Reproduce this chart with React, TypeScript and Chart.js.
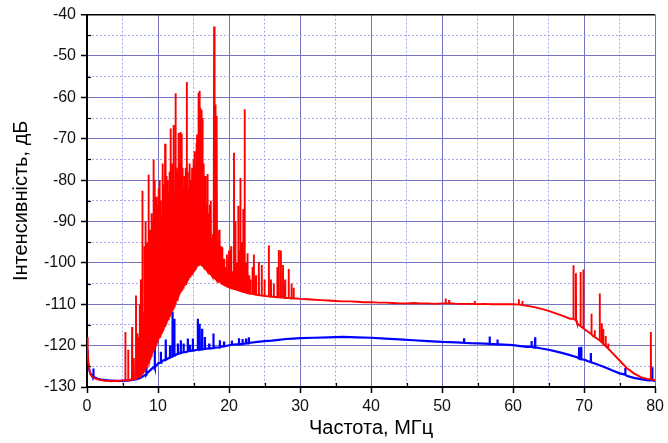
import { useEffect, useRef } from 'react';
import { Chart, registerables } from 'chart.js';

Chart.register(...registerables);

// ---------- axis values ----------
const X_MIN = 0;
const X_MAX = 80;
const Y_MIN = -130;
const Y_MAX = -40;
const xMinorTicks = [5, 15, 25, 35, 45, 55, 65, 75];
const yMinorTicks = [-125, -115, -105, -95, -85, -75, -65, -55, -45];

const X_TITLE = 'Частота, МГц';
const Y_TITLE = 'Інтенсивність, дБ';

// ---------- red trace: smooth background ----------
const redBaseX = [0, 0.1, 0.2, 0.35, 0.5, 0.8, 1.2, 1.6, 2, 2.5, 3, 3.5, 4, 4.5, 5, 5.5, 6, 6.5, 7, 7.2,
  29.5, 30, 31, 32, 33, 34, 35, 36, 37, 38, 39, 40, 41, 42, 43, 44, 45, 46, 47, 48, 49, 50, 51.5, 52, 53, 54, 55,
  56, 57, 58, 59, 60, 61, 62, 63, 64, 65, 66, 67, 68, 69, 70, 71, 72, 73, 74, 75, 76, 77, 78, 79, 79.5, 80];
const redBaseY = [-118, -121.5, -124, -126, -127, -127.6, -128, -128.2, -128.3, -128.5, -128.5, -128.6, -128.5, -128.6, -128.4, -128.4, -128.3, -128.1, -127.8, -127.6,
  -108.6, -108.7, -108.8, -108.9, -109, -109.1, -109.2, -109.3, -109.3, -109.4, -109.5, -109.5, -109.6, -109.6, -109.7, -109.8, -109.8, -109.7, -109.8, -109.8, -109.9, -109.8, -109.8, -109.9, -109.9, -109.9, -110,
  -109.9, -110, -110, -110, -110, -110.1, -110.4, -110.7, -111.1, -111.6, -112.2, -112.8, -113.5, -114.6, -116, -117.2, -118.5, -120.1, -121.8, -123.6, -125.4, -126.7, -127.6, -128.1, -128.2, -128.3];

// ---------- red trace: spikes [frequency, foot, peak] ----------
const redSpikesLowBand: [number, number, number][] = [
  [5.4, -128.4, -116.7], [5.8, -128.4, -121], [6.35, -128.2, -115.5], [6.6, -128.1, -123], [6.9, -128, -107.9], [7.1, -127.7, -117],
];
const redSpikesDense: [number, number, number][] = [
  [7.30, -127.5, -118], [7.45, -127.2, -110], [7.60, -127.0, -104], [7.80, -126.5, -82.6], [7.95, -126.2, -112],
  [8.10, -125.8, -96], [8.20, -125.5, -108], [8.30, -125.2, -90], [8.40, -124.8, -102], [8.50, -124.5, -95],
  [8.60, -124.2, -106], [8.70, -123.8, -78.7], [8.80, -123.5, -98], [8.90, -123.0, -92], [9.00, -122.5, -104],
  [9.10, -122.1, -88], [9.20, -121.7, -97], [9.30, -121.3, -90], [9.40, -120.9, -75], [9.50, -120.5, -86],
  [9.57, -120.3, -80], [9.65, -119.9, -93], [9.75, -119.5, -84], [9.85, -119.1, -96], [9.95, -118.7, -86],
  [10.05, -118.3, -90], [10.13, -117.9, -82], [10.22, -117.7, -80], [10.30, -117.3, -92], [10.40, -117.0, -85],
  [10.50, -116.8, -89], [10.60, -116.4, -83], [10.70, -116.0, -76], [10.80, -115.7, -87], [10.90, -115.3, -81],
  [11.00, -115.0, -71.2], [11.10, -114.6, -84], [11.20, -114.3, -79], [11.30, -113.9, -86], [11.40, -113.6, -80],
  [11.50, -113.2, -83], [11.60, -112.9, -78], [11.70, -112.5, -85], [11.80, -112.2, -67.5], [11.90, -111.8, -80],
  [12.00, -111.5, -76], [12.08, -111.2, -82], [12.15, -110.9, -66.7], [12.25, -110.5, -79], [12.35, -110.1, -84],
  [12.45, -109.7, -59], [12.55, -109.3, -77], [12.65, -108.9, -81], [12.75, -108.5, -78], [12.83, -108.1, -83],
  [12.92, -107.9, -68.6], [13.00, -107.5, -79], [13.10, -107.2, -76], [13.20, -106.9, -68.4], [13.30, -106.6, -68.8],
  [13.40, -106.3, -80], [13.50, -106.0, -77], [13.60, -105.7, -82], [13.70, -105.4, -79], [13.80, -105.1, -84],
  [13.90, -104.8, -77], [14.05, -104.4, -56.3], [14.15, -104.2, -78], [14.25, -103.9, -82], [14.40, -103.5, -80],
  [14.50, -103.2, -76], [14.60, -102.9, -80], [14.70, -102.7, -84], [14.80, -102.5, -77], [14.90, -102.2, -81],
  [15.00, -102.0, -75], [15.10, -101.7, -79], [15.20, -101.5, -73], [15.30, -101.3, -77], [15.40, -101.0, -71],
  [15.50, -100.8, -69], [15.60, -100.6, -72], [15.70, -100.5, -58.9], [15.85, -100.4, -58.4], [15.95, -100.3, -62.5],
  [16.10, -100.4, -63], [16.20, -100.5, -65], [16.30, -100.6, -72], [16.40, -100.8, -76], [16.50, -101.0, -80],
  [16.60, -101.2, -84], [16.70, -101.4, -79], [16.80, -101.6, -86], [16.95, -101.9, -78.5], [17.05, -102.1, -88],
  [17.15, -102.3, -92], [17.30, -102.6, -86], [17.44, -102.8, -85], [17.55, -103.0, -94], [17.65, -103.2, -97],
  [17.75, -103.4, -93], [17.90, -103.7, -42.9], [18.00, -103.8, -90], [18.10, -103.9, -61.7], [18.20, -104.0, -78],
  [18.30, -104.2, -64.5], [18.45, -104.4, -95], [18.60, -104.6, -92], [18.75, -104.7, -99], [18.90, -104.9, -96],
  [19.05, -105.1, -96.2], [19.30, -105.3, -99], [19.50, -105.5, -101], [19.70, -105.7, -98],
];
const redSpikesMid: [number, number, number][] = [
  [20.00, -105.9, -97], [20.30, -106.1, -96], [20.50, -106.2, -102], [20.70, -106.3, -73.4], [20.90, -106.4, -90],
  [21.10, -106.5, -100], [21.30, -106.6, -86.2], [21.45, -106.7, -97], [21.60, -106.8, -79.5], [21.75, -106.9, -95],
  [22.00, -107.0, -87], [22.20, -107.1, -62.9], [22.40, -107.2, -100], [22.60, -107.3, -97.7], [22.85, -107.4, -103],
  [23.00, -107.5, -104], [23.30, -107.5, -101], [23.50, -107.6, -98], [23.80, -107.7, -103], [24.20, -107.8, -99.8],
  [24.60, -107.9, -100.5], [25.00, -108.0, -104], [25.60, -108.1, -95.8], [25.90, -108.2, -104], [26.30, -108.2, -105],
  [26.80, -108.3, -101], [27.00, -108.3, -96.9], [27.30, -108.4, -97], [27.60, -108.4, -100.5], [27.90, -108.5, -104],
  [28.40, -108.5, -101.5], [28.80, -108.6, -105], [29.10, -108.6, -106],
];
const redSpikesHigh: [number, number, number][] = [
  [50.5, -109.8, -108.6], [51.0, -109.8, -109], [54.6, -109.9, -109.2], [60.8, -110.1, -108.8], [61.3, -110.2, -109.2],
  [68.5, -113.5, -100.6], [68.85, -113.9, -102.5], [69.5, -115.3, -102.2], [69.9, -115.8, -101.6], [71.05, -117.3, -112.3],
  [71.5, -117.9, -116.3], [72.2, -118.8, -107.4], [72.5, -119.2, -114.6], [72.7, -119.6, -116], [73.05, -120.1, -117.7],
  [73.4, -120.7, -119.5], [79.4, -128.1, -116.7],
];

// ---------- blue trace ----------
const blueBaseX = [0, 0.1, 0.25, 0.5, 1, 1.5, 2, 3, 4, 5, 6, 7, 7.5, 8, 8.5, 9, 9.5, 10, 10.5, 11, 11.5, 12, 13, 14, 15,
  16, 17, 18, 19, 20, 21, 22, 23, 24, 25, 26, 27, 28, 29, 30, 32, 34, 36, 38, 40, 42, 44, 46, 48, 50, 52, 54, 56, 58, 60,
  61, 62, 63, 64, 65, 66, 67, 68, 69, 70, 71, 72, 73, 74, 75, 76, 77, 78, 79, 80];
const blueBaseY = [-121, -123.5, -125.5, -126.8, -127.6, -128, -128.2, -128.4, -128.5, -128.5, -128.4, -128.1, -127.8, -127.3, -126.6, -125.8, -125, -124.3, -123.8, -123.4, -123, -122.6, -121.9, -121.5, -121.2,
  -120.9, -120.7, -120.5, -120.2, -119.9, -119.7, -119.5, -119.3, -119.1, -118.9, -118.8, -118.6, -118.4, -118.3, -118.2, -118.1, -118, -117.9, -118, -118.1, -118.3, -118.5, -118.7, -118.9, -119.1, -119.2, -119.4, -119.5, -119.7, -119.9,
  -120.1, -120.3, -120.5, -120.7, -121, -121.4, -121.8, -122.3, -122.8, -123.4, -124, -124.6, -125.3, -126, -126.7, -127.3, -127.8, -128.1, -128.4, -128.5];
const blueSpikes: [number, number, number][] = [
  [0.9, -127.8, -125.5], [8.35, -127, -123.5], [9.55, -125.3, -117.7], [10.4, -124.1, -121.5], [11.1, -123.4, -118.5],
  [11.7, -122.9, -120], [12.05, -122.6, -111.9], [12.3, -122.4, -113.5], [12.8, -122, -119.5], [13.2, -121.8, -118.7],
  [13.6, -121.6, -119.5], [14.2, -121.4, -118.3], [14.5, -121.3, -119.8], [14.9, -121.2, -118.3], [15.6, -121, -113.5],
  [15.85, -121, -114.7], [16.2, -120.9, -115.9], [16.6, -120.8, -117.9], [17.2, -120.7, -119.5], [17.8, -120.6, -117.1],
  [18.7, -120.4, -118.7], [19.3, -120.2, -119], [20.4, -119.8, -118.8], [21.4, -119.7, -118.2], [21.9, -119.6, -118.4],
  [22.4, -119.5, -118.3], [22.8, -119.4, -118], [53.1, -119.3, -118.2], [56.7, -119.6, -117.8], [57.8, -119.7, -118.5],
  [62.6, -120.3, -118.9], [63.1, -120.4, -118.0], [69.3, -123.1, -120.4], [69.6, -123.3, -120.3], [70.95, -124, -121.8],
  [75.8, -127, -125.4], [79.6, -128.4, -125.2],
];

// ---------- styling ----------
const FONT = "'Liberation Sans', Arial, Helvetica, sans-serif";
const MAJOR_GRID = '#7474c2';
const MINOR_GRID = '#a4a4f0';

type Pt = { x: number; y: number };
function buildTrace(bx: number[], by: number[], spikes: [number, number, number][]): Pt[] {
  const pts: Pt[] = bx.map((x, i) => ({ x, y: by[i] }));
  spikes.forEach(([x, foot, peak]) => {
    pts.push({ x: x - 0.025, y: foot }, { x, y: peak }, { x: x + 0.025, y: foot });
  });
  pts.sort((a, b) => a.x - b.x);
  return pts;
}

const isMajor = (ctx: any) => !!ctx.tick && Math.abs(ctx.tick.value % 10) < 1e-6;

const minorTickPlugin = {
  id: 'minorTicks',
  afterDatasetsDraw(chart: any) {
    const { ctx, chartArea, scales } = chart;
    ctx.save();
    ctx.strokeStyle = '#000';
    ctx.lineWidth = 1.2;
    xMinorTicks.forEach((v) => {
      const p = Math.round(scales.x.getPixelForValue(v)) + 0.5;
      ctx.beginPath();
      ctx.moveTo(p, chartArea.bottom);
      ctx.lineTo(p, chartArea.bottom - 4);
      ctx.stroke();
    });
    yMinorTicks.forEach((v) => {
      const p = Math.round(scales.y.getPixelForValue(v)) + 0.5;
      ctx.beginPath();
      ctx.moveTo(chartArea.left, p);
      ctx.lineTo(chartArea.left + 4, p);
      ctx.stroke();
    });
    ctx.restore();
  },
};

export default function App() {
  const ref = useRef<HTMLCanvasElement>(null);
  useEffect(() => {
    const red = buildTrace(redBaseX, redBaseY, [...redSpikesLowBand, ...redSpikesDense, ...redSpikesMid, ...redSpikesHigh]);
    const blue = buildTrace(blueBaseX, blueBaseY, blueSpikes);
    const chart = new Chart(ref.current as HTMLCanvasElement, {
      type: 'line',
      data: {
        datasets: [
          { data: red as any, borderColor: '#ff0000', borderWidth: 1.9, pointRadius: 0, tension: 0, fill: false },
          { data: blue as any, borderColor: '#0000ff', borderWidth: 2.2, pointRadius: 0, tension: 0, fill: false },
        ],
      },
      options: {
        animation: false,
        responsive: false,
        events: [],
        layout: { padding: { top: 13, right: 9, left: 0, bottom: 0 } },
        plugins: { legend: { display: false }, tooltip: { enabled: false } },
        scales: {
          x: {
            type: 'linear',
            min: X_MIN,
            max: X_MAX,
            afterFit: (s: any) => { s.height = 56; },
            ticks: {
              stepSize: 5,
              autoSkip: false,
              maxRotation: 0,
              padding: 4,
              color: '#111',
              font: { family: FONT, size: 16 },
              callback: (v: any) => (Math.abs(Number(v) % 10) < 1e-6 ? String(v) : ''),
            },
            grid: {
              color: (ctx: any) => (isMajor(ctx) ? MAJOR_GRID : MINOR_GRID),
              lineWidth: 1,
              tickLength: 6,
              tickWidth: 1.5,
              tickColor: (ctx: any) => (isMajor(ctx) ? '#000' : 'rgba(0,0,0,0)'),
            },
            border: { display: true, color: '#000', width: 2, dash: (ctx: any) => (isMajor(ctx) ? [] : [2, 2]) } as any,
            title: { display: true, text: X_TITLE, color: '#000', font: { family: FONT, size: 20 }, padding: { top: 0, bottom: 3 } },
          },
          y: {
            type: 'linear',
            min: Y_MIN,
            max: Y_MAX,
            afterFit: (s: any) => { s.width = 87; },
            ticks: {
              stepSize: 5,
              autoSkip: false,
              padding: 5,
              color: '#111',
              font: { family: FONT, size: 16 },
              callback: (v: any) => (Math.abs(Number(v) % 10) < 1e-6 ? String(v) : ''),
            },
            grid: {
              color: (ctx: any) => (ctx.tick && ctx.tick.value === Y_MAX ? '#000' : isMajor(ctx) ? MAJOR_GRID : MINOR_GRID),
              lineWidth: (ctx: any) => (ctx.tick && ctx.tick.value === Y_MAX ? 1.5 : 1),
              tickLength: 6,
              tickWidth: 1.5,
              tickColor: (ctx: any) => (isMajor(ctx) ? '#000' : 'rgba(0,0,0,0)'),
            },
            border: { display: true, color: '#000', width: 2, dash: (ctx: any) => (isMajor(ctx) ? [] : [2, 2]) } as any,
            title: { display: true, text: Y_TITLE, color: '#000', font: { family: FONT, size: 20 }, padding: { top: 9, bottom: 0 } },
          },
        },
      },
      plugins: [minorTickPlugin],
    });
    return () => chart.destroy();
  }, []);
  return (
    <div style={{ position: 'fixed', left: 0, top: 0, width: 668, height: 443, background: '#fff' }}>
      <canvas ref={ref} width={668} height={443} style={{ width: 668, height: 443, display: 'block' }} />
    </div>
  );
}
